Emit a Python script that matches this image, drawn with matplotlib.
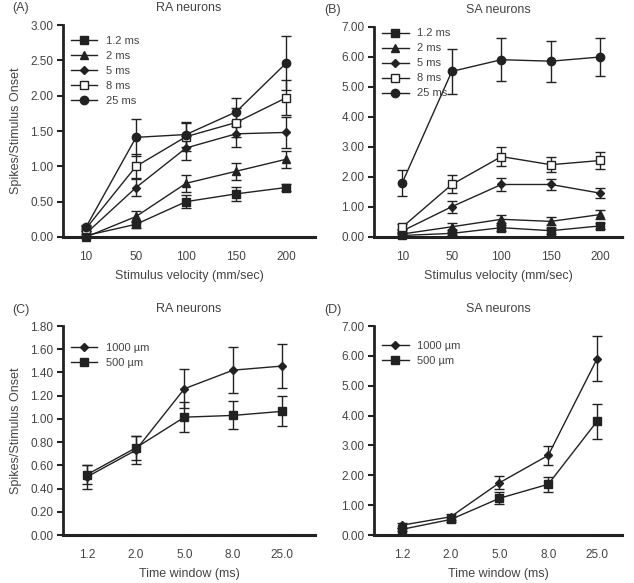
import matplotlib.pyplot as plt
from matplotlib.lines import Line2D
import numpy as np

plt.rcParams['font.family'] = ['Liberation Sans', 'DejaVu Sans']

# ---- data ----
velocity_labels = ['10', '50', '100', '150', '200']
window_labels = ['1.2', '2.0', '5.0', '8.0', '25.0']

ra_vel = {
    '1.2 ms': [0.02, 0.18, 0.50, 0.61, 0.70],
    '2 ms':   [0.00, 0.29, 0.76, 0.93, 1.10],
    '5 ms':   [0.05, 0.70, 1.26, 1.46, 1.48],
    '8 ms':   [0.12, 1.00, 1.42, 1.62, 1.97],
    '25 ms':  [0.14, 1.41, 1.45, 1.77, 2.46],
}
ra_vel_err = {
    '1.2 ms': [0.02, 0.05, 0.09, 0.10, 0.05],
    '2 ms':   [0.02, 0.08, 0.12, 0.12, 0.12],
    '5 ms':   [0.03, 0.12, 0.17, 0.18, 0.22],
    '8 ms':   [0.03, 0.17, 0.20, 0.20, 0.25],
    '25 ms':  [0.03, 0.26, 0.18, 0.20, 0.38],
}
sa_vel = {
    '1.2 ms': [0.05, 0.12, 0.31, 0.21, 0.37],
    '2 ms':   [0.10, 0.34, 0.59, 0.52, 0.75],
    '5 ms':   [0.20, 1.01, 1.75, 1.75, 1.46],
    '8 ms':   [0.33, 1.75, 2.68, 2.41, 2.55],
    '25 ms':  [1.81, 5.52, 5.91, 5.86, 6.00],
}
sa_vel_err = {
    '1.2 ms': [0.05, 0.06, 0.10, 0.10, 0.09],
    '2 ms':   [0.06, 0.12, 0.14, 0.13, 0.15],
    '5 ms':   [0.08, 0.20, 0.22, 0.17, 0.17],
    '8 ms':   [0.10, 0.30, 0.33, 0.25, 0.28],
    '25 ms':  [0.43, 0.75, 0.72, 0.68, 0.62],
}
ra_win = {
    '1000 µm': [0.50, 0.73, 1.26, 1.42, 1.455],
    '500 µm':  [0.52, 0.75, 1.015, 1.03, 1.065],
}
ra_win_err = {
    '1000 µm': [0.10, 0.12, 0.17, 0.20, 0.19],
    '500 µm':  [0.08, 0.10, 0.13, 0.12, 0.13],
}
sa_win = {
    '1000 µm': [0.33, 0.61, 1.75, 2.67, 5.90],
    '500 µm':  [0.19, 0.52, 1.23, 1.70, 3.81],
}
sa_win_err = {
    '1000 µm': [0.08, 0.10, 0.22, 0.32, 0.75],
    '500 µm':  [0.06, 0.08, 0.20, 0.25, 0.58],
}

styles = {
    '1.2 ms':  dict(marker='s', mfc='#222222', ms=5.5),
    '2 ms':    dict(marker='^', mfc='#222222', ms=6),
    '5 ms':    dict(marker='D', mfc='#222222', ms=4.5),
    '8 ms':    dict(marker='s', mfc='white', ms=6),
    '25 ms':   dict(marker='o', mfc='#222222', ms=6),
    '1000 µm': dict(marker='D', mfc='#222222', ms=4.5),
    '500 µm':  dict(marker='s', mfc='#222222', ms=6),
}

ink = '#222222'
txt = '#444444'


def panel(rect, tag, title, labels, series, errs, ymax, ystep, xlim, xlabel, ylabel, leg_y):
    ax = fig.add_axes(rect)
    x = np.arange(len(labels))
    handles = []
    for name, vals in series.items():
        ax.errorbar(x, vals, yerr=errs[name], color=ink, lw=1.0, mec=ink,
                    capsize=3.5, elinewidth=1.0, capthick=1.0,
                    clip_on=False, zorder=3, **styles[name])
        handles.append(Line2D([], [], color=ink, lw=1.0, mec=ink, label=name,
                              **styles[name]))
    ax.set_xlim(*xlim)
    ax.set_ylim(0, ymax)
    yt = np.arange(0, ymax + ystep / 2, ystep)
    ax.set_yticks(yt)
    ax.set_yticklabels(['%.2f' % v for v in yt])
    ax.set_xticks(x)
    ax.set_xticklabels(labels)
    ax.tick_params(axis='x', length=0, pad=10, labelsize=8.5, colors=txt)
    ax.tick_params(axis='y', length=4, width=1.5, color=ink, pad=3, labelsize=8.5, labelcolor=txt)
    for s in ['top', 'right']:
        ax.spines[s].set_visible(False)
    ax.spines['left'].set_linewidth(2)
    ax.spines['left'].set_color(ink)
    ax.spines['bottom'].set_linewidth(2.2)
    ax.spines['bottom'].set_linestyle((0, (1.2, 0.8)))
    ax.spines['bottom'].set_color(ink)
    ax.set_xlabel(xlabel, fontsize=9, color=txt, labelpad=5)
    if ylabel:
        ax.set_ylabel(ylabel, fontsize=9, color=txt, labelpad=6)
    ax.set_title(title, fontsize=9, color=txt, pad=10)
    ax.text(-0.2, 1.05, tag, transform=ax.transAxes, fontsize=9, color=txt, va='bottom')
    ax.legend(handles=handles, loc='upper left', frameon=False, fontsize=8,
              handlelength=2.4, labelspacing=0.45, borderaxespad=0.3,
              labelcolor=txt, bbox_to_anchor=(0.0, leg_y))
    return ax


fig = plt.figure(figsize=(6.34, 5.83), dpi=100)

panel([0.0994, 0.5935, 0.3976, 0.3636], '(A)', 'RA neurons', velocity_labels,
      ra_vel, ra_vel_err, 3.0, 0.5, (-0.46, 4.58), 'Stimulus velocity (mm/sec)',
      'Spikes/Stimulus Onset', 0.985)
panel([0.590, 0.5935, 0.393, 0.3602], '(B)', 'SA neurons', velocity_labels,
      sa_vel, sa_vel_err, 7.0, 1.0, (-0.57, 4.46), 'Stimulus velocity (mm/sec)', None, 1.03)
panel([0.0994, 0.0823, 0.3976, 0.3585], '(C)', 'RA neurons', window_labels,
      ra_win, ra_win_err, 1.8, 0.2, (-0.49, 4.68), 'Time window (ms)',
      'Spikes/Stimulus Onset', 0.955)
panel([0.590, 0.0823, 0.391, 0.3585], '(D)', 'SA neurons', window_labels,
      sa_win, sa_win_err, 7.0, 1.0, (-0.57, 4.51), 'Time window (ms)', None, 0.965)

fig.savefig('out.png', dpi=100)
